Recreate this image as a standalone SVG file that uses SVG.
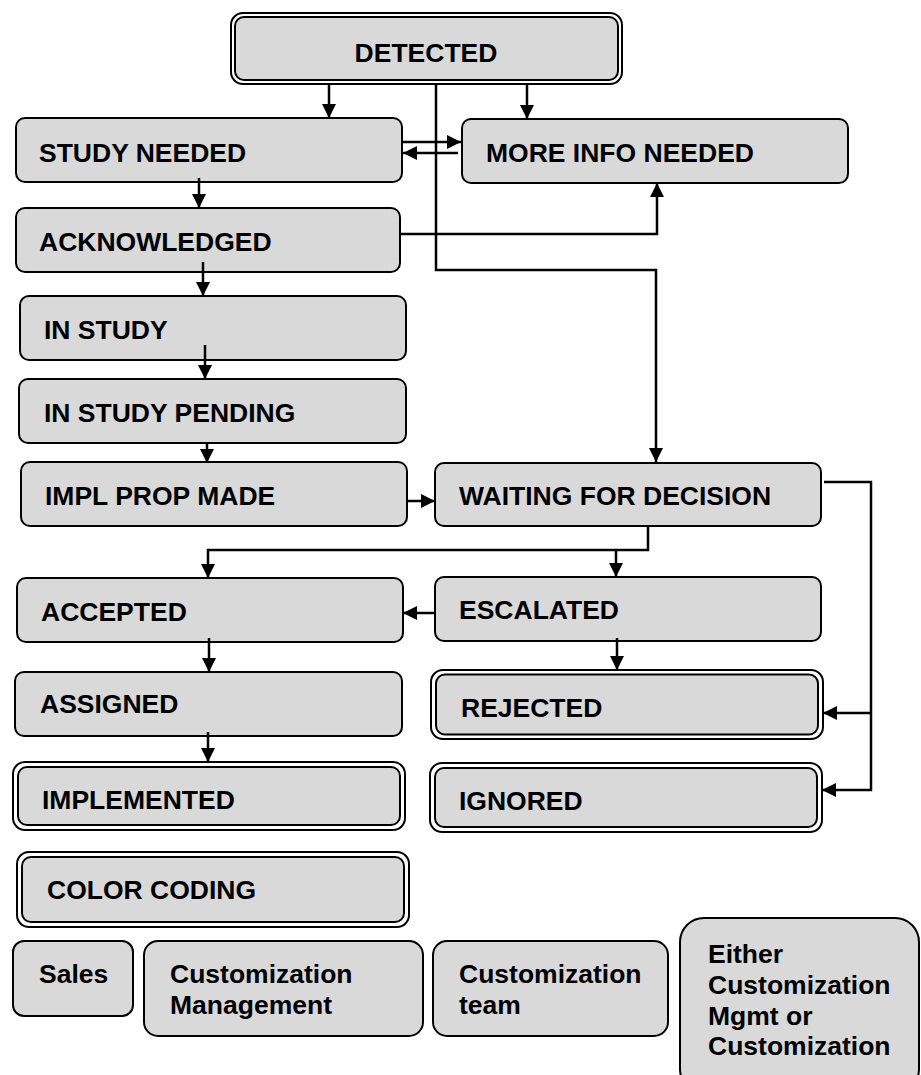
<svg xmlns="http://www.w3.org/2000/svg" width="921" height="1075" viewBox="0 0 921 1075">
<style>
.box{fill:#d9d9d9;stroke:#000;stroke-width:2}
.outer{fill:#fff;stroke:#000;stroke-width:2}
.t{font-family:"Liberation Sans",Arial,sans-serif;font-weight:bold;font-size:26.5px;fill:#000}
.c{fill:none;stroke:#000;stroke-width:2.5}
</style>
<defs>
<marker id="ah" markerWidth="14" markerHeight="14" refX="14" refY="7" orient="auto" markerUnits="userSpaceOnUse">
<path d="M0,0 L14,7 L0,14 z" fill="#000"/>
</marker>
</defs>
<rect width="921" height="1075" fill="#fff"/>

<g id="detected">
<rect class="outer" x="231" y="13" width="391" height="71" rx="12"/>
<rect class="box" x="235" y="17" width="383" height="63" rx="9"/>
<text class="t" x="426" y="62" text-anchor="middle">DETECTED</text>
</g>
<g id="study-needed">
<rect class="box" x="16" y="118" width="386" height="64" rx="9"/>
<text class="t" x="39" y="162">STUDY NEEDED</text>
</g>
<g id="more-info-needed">
<rect class="box" x="462" y="119" width="386" height="64" rx="9"/>
<text class="t" x="486" y="162">MORE INFO NEEDED</text>
</g>
<g id="acknowledged">
<rect class="box" x="16" y="208" width="384" height="64" rx="9"/>
<text class="t" x="39" y="251">ACKNOWLEDGED</text>
</g>
<g id="in-study">
<rect class="box" x="20" y="296" width="386" height="64" rx="9"/>
<text class="t" x="44" y="339">IN STUDY</text>
</g>
<g id="in-study-pending">
<rect class="box" x="19" y="379" width="387" height="64" rx="9"/>
<text class="t" x="44" y="422">IN STUDY PENDING</text>
</g>
<g id="impl-prop-made">
<rect class="box" x="21" y="462" width="386" height="64" rx="9"/>
<text class="t" x="45" y="505">IMPL PROP MADE</text>
</g>
<g id="waiting-for-decision">
<rect class="box" x="435" y="463" width="386" height="63" rx="9"/>
<text class="t" x="459" y="505">WAITING FOR DECISION</text>
</g>
<g id="accepted">
<rect class="box" x="17" y="578" width="386" height="64" rx="9"/>
<text class="t" x="41" y="621">ACCEPTED</text>
</g>
<g id="escalated">
<rect class="box" x="435" y="577" width="386" height="64" rx="9"/>
<text class="t" x="459" y="619">ESCALATED</text>
</g>
<g id="assigned">
<rect class="box" x="15" y="672" width="387" height="64" rx="9"/>
<text class="t" x="40" y="713">ASSIGNED</text>
</g>
<g id="rejected">
<rect class="outer" x="431" y="670" width="392" height="69" rx="12"/>
<rect class="box" x="436" y="674.5" width="382" height="60" rx="9"/>
<text class="t" x="461" y="717">REJECTED</text>
</g>
<g id="implemented">
<rect class="outer" x="13" y="762" width="392" height="68" rx="12"/>
<rect class="box" x="18" y="767" width="382" height="58" rx="9"/>
<text class="t" x="42" y="809">IMPLEMENTED</text>
</g>
<g id="ignored">
<rect class="outer" x="430" y="763" width="392" height="69" rx="12"/>
<rect class="box" x="435" y="768" width="382" height="59" rx="9"/>
<text class="t" x="459" y="810">IGNORED</text>
</g>
<g id="color-coding">
<rect class="outer" x="17" y="852" width="392" height="75" rx="12"/>
<rect class="box" x="22" y="857" width="382" height="65" rx="9"/>
<text class="t" x="47" y="899">COLOR CODING</text>
</g>
<g id="sales">
<rect class="box" x="13" y="941" width="120" height="75" rx="11"/>
<text class="t" x="39" y="983">Sales</text>
</g>
<g id="customization-management">
<rect class="box" x="144" y="941" width="279" height="95" rx="14"/>
<text class="t" x="170" y="983">Customization</text>
<text class="t" x="170" y="1014">Management</text>
</g>
<g id="customization-team">
<rect class="box" x="433" y="941" width="235" height="95" rx="14"/>
<text class="t" x="459" y="983">Customization</text>
<text class="t" x="459" y="1014">team</text>
</g>
<g id="either">
<rect class="box" x="680" y="918" width="239" height="175" rx="24"/>
<text class="t" x="708" y="963">Either</text>
<text class="t" x="708" y="994">Customization</text>
<text class="t" x="708" y="1025">Mgmt or</text>
<text class="t" x="708" y="1055">Customization</text>
</g>

<g id="connectors">
<path class="c" d="M329,84 V118" marker-end="url(#ah)"/>
<path class="c" d="M527,84 V119" marker-end="url(#ah)"/>
<path class="c" d="M402,142 H461" marker-end="url(#ah)"/>
<path class="c" d="M458,153 H403" marker-end="url(#ah)"/>
<path class="c" d="M436,84 V270 H656 V462" marker-end="url(#ah)"/>
<path class="c" d="M400,234 H657 V183" marker-end="url(#ah)"/>
<path class="c" d="M199,178 V208" marker-end="url(#ah)"/>
<path class="c" d="M203,262 V296" marker-end="url(#ah)"/>
<path class="c" d="M205,345 V379" marker-end="url(#ah)"/>
<path class="c" d="M207,443 V463" marker-end="url(#ah)"/>
<path class="c" d="M407,501 H435" marker-end="url(#ah)"/>
<path class="c" d="M648,526 V550 H208 V578" marker-end="url(#ah)"/>
<path class="c" d="M616,549 V577" marker-end="url(#ah)"/>
<path class="c" d="M435,613 H403" marker-end="url(#ah)"/>
<path class="c" d="M617,638 V670" marker-end="url(#ah)"/>
<path class="c" d="M824,482 H871 V790 H822" marker-end="url(#ah)"/>
<path class="c" d="M871,713 H823" marker-end="url(#ah)"/>
<path class="c" d="M209,638 V672" marker-end="url(#ah)"/>
<path class="c" d="M208,732 V762" marker-end="url(#ah)"/>
</g>
</svg>
